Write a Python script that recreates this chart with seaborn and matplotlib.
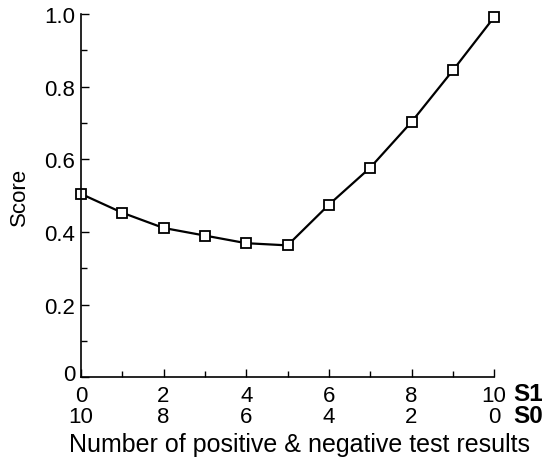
import matplotlib
matplotlib.use("Agg")
import matplotlib.pyplot as plt
import matplotlib.transforms as mtransforms
import seaborn as sns
import pandas as pd
from matplotlib.ticker import MultipleLocator

# data
positives = [0, 1, 2, 3, 4, 5, 6, 7, 8, 9, 10]
scores = [0.505, 0.453, 0.411, 0.390, 0.369, 0.363, 0.475, 0.577, 0.703, 0.845, 0.992]
s1_labels = ["0", "2", "4", "6", "8", "10"]
s0_labels = ["10", "8", "6", "4", "2", "0"]

df = pd.DataFrame({"positives": positives, "score": scores})

sns.set_style("ticks", {"text.color": "black", "axes.labelcolor": "black",
                        "xtick.color": "black", "ytick.color": "black",
                        "axes.edgecolor": "black"})
plt.rcParams["font.family"] = ["Liberation Sans", "DejaVu Sans"]

fig = plt.figure(figsize=(5.54, 4.6), dpi=100)
ax = fig.add_axes([0.146, 0.178, 0.746, 0.789])

sns.lineplot(data=df, x="positives", y="score", ax=ax, color="black",
             linewidth=1.6, marker="s", markersize=7, clip_on=False,
             markerfacecolor="white", markeredgecolor="black", markeredgewidth=1.3)

ax.set_xlim(0, 10)
ax.set_ylim(0, 1.0)
ax.xaxis.set_minor_locator(MultipleLocator(1))
ax.yaxis.set_minor_locator(MultipleLocator(0.1))

ax.set_xticks(range(0, 11, 2))
ax.set_xticklabels([f"{a}\n{b}" for a, b in zip(s1_labels, s0_labels)],
                   fontsize=16, linespacing=1.0)
ax.set_yticks([0, 0.2, 0.4, 0.6, 0.8, 1.0])
ax.set_yticklabels(["0", "0.2", "0.4", "0.6", "0.8", "1.0"], fontsize=16)

ax.tick_params(which="major", direction="in", length=6, width=1)
ax.tick_params(which="minor", direction="in", length=4, width=1)
ax.tick_params(axis="x", which="major", pad=6)
ax.tick_params(axis="y", which="major", pad=4)

# nudge the y "0" up a little so it clears the x "0"
zero_lab = ax.yaxis.get_major_ticks()[0].label1
zero_lab.set_transform(zero_lab.get_transform()
                       + mtransforms.ScaledTranslation(0, 4 / 72, fig.dpi_scale_trans))

sns.despine(ax=ax)
for s in ["left", "bottom"]:
    ax.spines[s].set_linewidth(1.2)

ax.set_xlabel("Number of positive & negative test results", fontsize=18)
ax.xaxis.set_label_coords(0.529, -0.150)
ax.set_ylabel("Score", fontsize=16, labelpad=10)

ax.text(1.046, -0.045, "S1", transform=ax.transAxes, fontsize=17.5,
        fontweight="bold", ha="left", va="center")
ax.text(1.046, -0.105, "S0", transform=ax.transAxes, fontsize=17.5,
        fontweight="bold", ha="left", va="center")

fig.savefig("out.png", dpi=100)
